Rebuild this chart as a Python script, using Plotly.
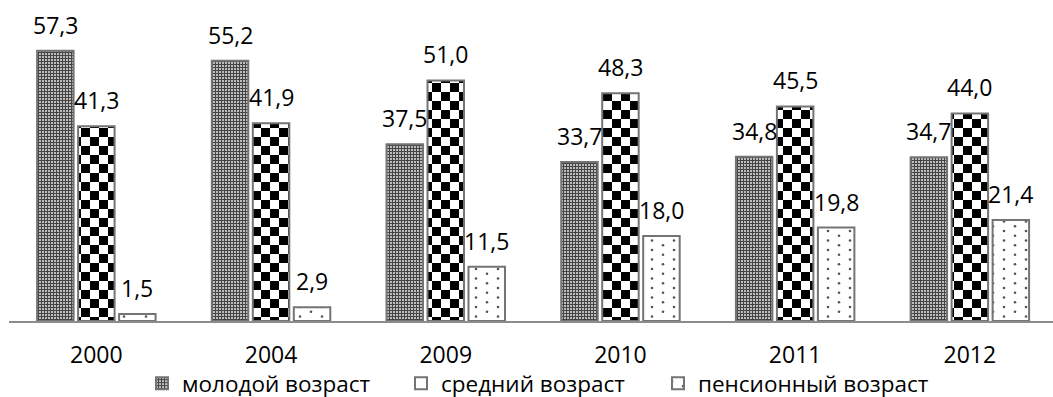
import plotly.graph_objects as go

# Доля возрастных групп по годам
years = ["2000", "2004", "2009", "2010", "2011", "2012"]
series_names = ["молодой возраст", "средний возраст", "пенсионный возраст"]
young = [57.3, 55.2, 37.5, 33.7, 34.8, 34.7]
middle = [41.3, 41.9, 51.0, 48.3, 45.5, 44.0]
pension = [1.5, 2.9, 11.5, 18.0, 19.8, 21.4]
series_values = [young, middle, pension]

FONT = "Open Sans"
BAR_LINE = "#747474"

W, H = 1053, 397
ML, MR, MT, MB = 9, 0, 38, 76
CAT_PX = 174.7          # width of one category slot in pixels
BARGAP = 0.296
GROUPGAP = 0.11
Y_MAX = 60
LEGEND_LEFT_PX = [142, 401, 658]   # left edge of each legend entry
LEGEND_Y = 0.034

plot_w = W - ML - MR
x_range = [-0.5, -0.5 + plot_w / CAT_PX]

# fallback built-in patterns (replaced by custom SVG fills after render)
fallback = [
    dict(color="#8a8a8a", pattern=dict(shape=".", fgcolor="#d8d8d8", size=3, solidity=0.4)),
    dict(color="white", pattern=dict(shape="+", fgcolor="black", size=10, solidity=0.5)),
    dict(color="white", pattern=dict(shape=".", fgcolor="#555555", size=10, solidity=0.05)),
]

legend_ids = ["legend", "legend2", "legend3"]

fig = go.Figure()
for name, vals, mk, lid in zip(series_names, series_values, fallback, legend_ids):
    fig.add_trace(go.Bar(
        x=years, y=vals, name=name, legend=lid,
        marker=dict(line=dict(color=BAR_LINE, width=2), **mk),
        hoverinfo="skip",
    ))

# value labels above each bar, decimal comma
# (category axes place annotations by category index)
slot_px = CAT_PX * (1 - BARGAP) / len(series_values)
annotations = []
for k, vals in enumerate(series_values):
    dx = (k - (len(series_values) - 1) / 2) * slot_px
    for i, v in enumerate(vals):
        annotations.append(dict(
            x=i, y=v, xref="x", yref="y",
            text=f"{v:.1f}".replace(".", ","),
            showarrow=False, xanchor="center", yanchor="bottom",
            xshift=dx, yshift=8,
            font=dict(family=FONT, size=23, color="black"),
        ))

legend_style = dict(
    orientation="h", xref="container", yref="container",
    xanchor="left", y=LEGEND_Y, yanchor="middle",
    font=dict(family=FONT, size=22.5, color="black"),
    itemwidth=30, bgcolor="rgba(0,0,0,0)",
)
legends = {lid: dict(legend_style, x=px / W) for lid, px in zip(legend_ids, LEGEND_LEFT_PX)}

fig.update_layout(
    width=W, height=H,
    margin=dict(l=ML, r=MR, t=MT, b=MB, pad=0),
    paper_bgcolor="white", plot_bgcolor="white",
    barmode="group", bargap=BARGAP, bargroupgap=GROUPGAP,
    font=dict(family=FONT, size=23, color="black"),
    annotations=annotations,
    showlegend=True,
    xaxis=dict(
        type="category", range=x_range, showgrid=False, zeroline=False,
        showline=True, linecolor="#8c8c8c", linewidth=2,
        ticks="outside", ticklen=12, tickcolor="rgba(0,0,0,0)",
        tickfont=dict(family=FONT, size=23, color="black"),
        automargin=False, fixedrange=True,
    ),
    yaxis=dict(
        range=[0, Y_MAX], showgrid=False, zeroline=False, showline=False,
        showticklabels=False, ticks="", automargin=False, fixedrange=True,
    ),
    **legends,
)

# Custom SVG hatches: fine dither, checkerboard, sparse dots
post = r"""
var gd = document.getElementById('{plot_id}');
var NS = 'http://www.w3.org/2000/svg';
var defs = gd.querySelector('.main-svg defs');
function mk(tag, attrs, parent) {
  var e = document.createElementNS(NS, tag);
  for (var k in attrs) e.setAttribute(k, attrs[k]);
  if (parent) parent.appendChild(e);
  return e;
}
var p0 = mk('pattern', {id: 'hatch-young', width: 3, height: 3, patternUnits: 'userSpaceOnUse'}, defs);
mk('rect', {x: 0, y: 0, width: 3, height: 3, fill: '#454545'}, p0);
mk('rect', {x: 0, y: 0, width: 2, height: 2, fill: '#bdbdbd'}, p0);
var p1 = mk('pattern', {id: 'hatch-middle', width: 18, height: 18, patternUnits: 'userSpaceOnUse'}, defs);
mk('rect', {x: 0, y: 0, width: 18, height: 18, fill: '#ffffff'}, p1);
mk('rect', {x: 0, y: 0, width: 9, height: 9, fill: '#000000'}, p1);
mk('rect', {x: 9, y: 9, width: 9, height: 9, fill: '#000000'}, p1);
var p2 = mk('pattern', {id: 'hatch-pension', width: 22, height: 19, patternUnits: 'userSpaceOnUse'}, defs);
mk('rect', {x: 0, y: 0, width: 22, height: 19, fill: '#ffffff'}, p2);
mk('circle', {cx: 5, cy: 3, r: 1.3, fill: '#555555'}, p2);
mk('circle', {cx: 16, cy: 7.75, r: 1.3, fill: '#555555'}, p2);
mk('circle', {cx: 5, cy: 12.5, r: 1.3, fill: '#555555'}, p2);
mk('circle', {cx: 16, cy: 17.25, r: 1.3, fill: '#555555'}, p2);
var fills = ['url(#hatch-young)', 'url(#hatch-middle)', 'url(#hatch-pension)'];
var legendFills = ['url(#hatch-young)', '#ffffff', 'url(#hatch-pension)'];
var traces = gd.querySelectorAll('.barlayer .trace');
traces.forEach(function(t, i) {
  t.querySelectorAll('.point path').forEach(function(p) {
    p.style.fill = fills[i]; p.style.fillOpacity = 1;
  });
});
['legend', 'legend2', 'legend3'].forEach(function(cls, i) {
  gd.querySelectorAll('.' + cls + ' .legendpoints path').forEach(function(p) {
    p.style.fill = legendFills[i]; p.style.fillOpacity = 1;
    p.style.strokeWidth = '2px';
  });
});
"""

fig.write_html("out.html", post_script=post, config={"displayModeBar": False, "staticPlot": True})
